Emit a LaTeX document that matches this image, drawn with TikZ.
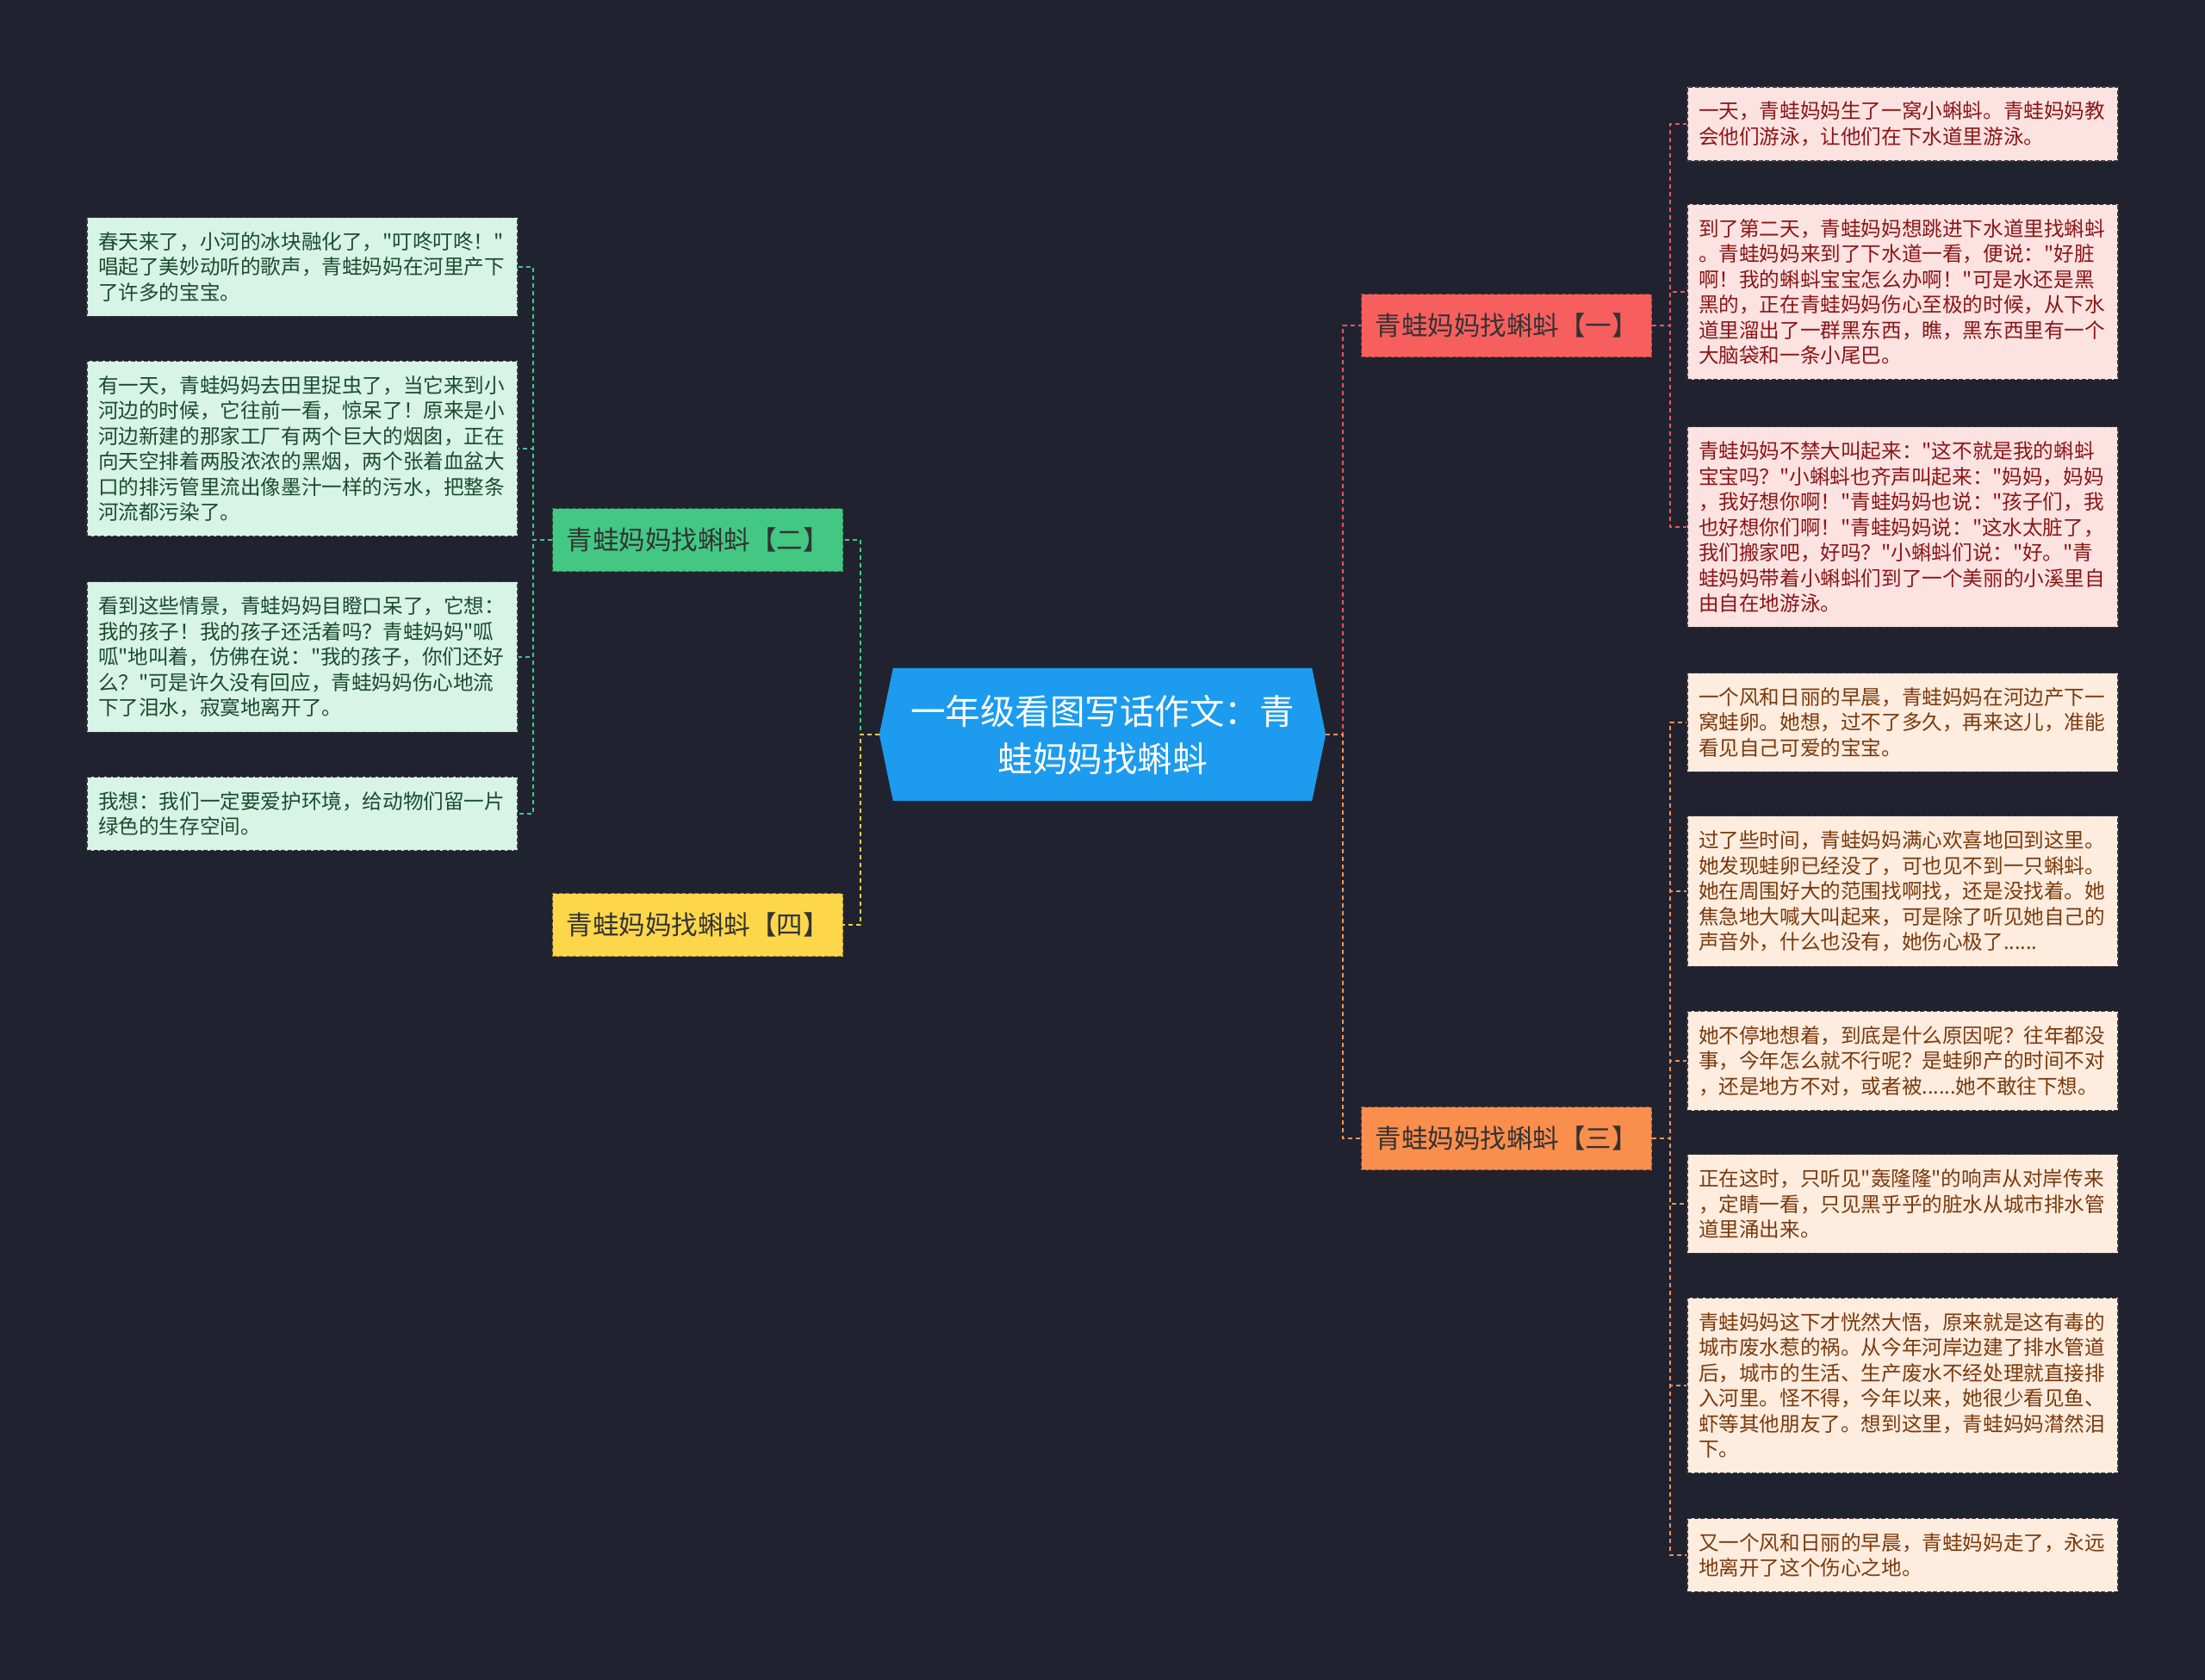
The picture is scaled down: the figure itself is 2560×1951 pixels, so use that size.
\documentclass[tikz,border=0pt]{standalone}
\usepackage{fontspec}
\setmainfont{Noto Sans CJK SC}[Ligatures=TeXOff]
\usetikzlibrary{backgrounds}

\definecolor{bgc}{HTML}{20232F}
\definecolor{rootblue}{HTML}{1C9BEF}
\definecolor{leafline}{HTML}{3A3A3A}
\definecolor{redB}{HTML}{F75F5E}
\definecolor{redL}{HTML}{FDE2E2}
\definecolor{redT}{HTML}{8A1616}
\definecolor{redC}{HTML}{E8585A}
\definecolor{greenB}{HTML}{43C884}
\definecolor{greenL}{HTML}{D7F4E6}
\definecolor{greenT}{HTML}{1D4A33}
\definecolor{greenC}{HTML}{3FC98A}
\definecolor{yellowB}{HTML}{FDD64A}
\definecolor{yellowC}{HTML}{F5CF45}
\definecolor{orangeB}{HTML}{FA8E4D}
\definecolor{orangeL}{HTML}{FEECDF}
\definecolor{orangeT}{HTML}{7A3A0C}
\definecolor{orangeC}{HTML}{F29352}

\begin{document}
\begin{tikzpicture}[x=1pt,y=-1pt,
  rootbox/.style={minimum width=486pt,minimum height=154pt,inner sep=0pt,align=center,text=white,font=\fontsize{40.5}{55}\selectfont},
  branch/.style={minimum width=337pt,minimum height=73pt,inner sep=4pt,draw=#1!60!black,fill=#1,dash pattern=on 5pt off 2.5pt,line width=1.2pt,text=black!80,font=\fontsize{30.5}{34}\selectfont},
  leaf/.style={draw=leafline,dash pattern=on 5pt off 2.5pt,line width=1.2pt,text width=474pt,inner xsep=13pt,inner ysep=17pt,align=left,font=\fontsize{23.6}{29.5}\selectfont},
  leafg/.style={leaf,fill=greenL,text=greenT},
  leafr/.style={leaf,fill=redL,text=redT},
  leafo/.style={leaf,fill=orangeL,text=orangeT},
  link/.style={line width=1.8pt,dash pattern=on 5pt off 4pt}]
  \useasboundingbox (0,0) rectangle (2560,1951);

  \node[rootbox] (root) at (1280,853) {一年级看图写话作文：青\\蛙妈妈找蝌蚪};

  \node[branch=redB] (b1) at (1749,378) {青蛙妈妈找蝌蚪【一】};
  \node[branch=greenB] (b2) at (810,627) {青蛙妈妈找蝌蚪【二】};
  \node[branch=orangeB] (b3) at (1749,1322) {青蛙妈妈找蝌蚪【三】};
  \node[branch=yellowB] (b4) at (810,1074) {青蛙妈妈找蝌蚪【四】};

  \node[leafg] (l1) at (351,310) {春天来了，小河的冰块融化了，"叮咚叮咚！"\\唱起了美妙动听的歌声，青蛙妈妈在河里产下\\了许多的宝宝。};
  \node[leafg] (l2) at (351,521) {有一天，青蛙妈妈去田里捉虫了，当它来到小\\河边的时候，它往前一看，惊呆了！原来是小\\河边新建的那家工厂有两个巨大的烟囱，正在\\向天空排着两股浓浓的黑烟，两个张着血盆大\\口的排污管里流出像墨汁一样的污水，把整条\\河流都污染了。};
  \node[leafg] (l3) at (351,763) {看到这些情景，青蛙妈妈目瞪口呆了，它想：\\我的孩子！我的孩子还活着吗？青蛙妈妈"呱\\呱"地叫着，仿佛在说："我的孩子，你们还好\\么？"可是许久没有回应，青蛙妈妈伤心地流\\下了泪水，寂寞地离开了。};
  \node[leafg] (l4) at (351,945) {我想：我们一定要爱护环境，给动物们留一片\\绿色的生存空间。};

  \node[leafr] (r1) at (2209,144) {一天，青蛙妈妈生了一窝小蝌蚪。青蛙妈妈教\\会他们游泳，让他们在下水道里游泳。};
  \node[leafr] (r2) at (2209,339) {到了第二天，青蛙妈妈想跳进下水道里找蝌蚪\\。青蛙妈妈来到了下水道一看，便说："好脏\\啊！我的蝌蚪宝宝怎么办啊！"可是水还是黑\\黑的，正在青蛙妈妈伤心至极的时候，从下水\\道里溜出了一群黑东西，瞧，黑东西里有一个\\大脑袋和一条小尾巴。};
  \node[leafr] (r3) at (2209,612) {青蛙妈妈不禁大叫起来："这不就是我的蝌蚪\\宝宝吗？"小蝌蚪也齐声叫起来："妈妈，妈妈\\，我好想你啊！"青蛙妈妈也说："孩子们，我\\也好想你们啊！"青蛙妈妈说："这水太脏了，\\我们搬家吧，好吗？"小蝌蚪们说："好。"青\\蛙妈妈带着小蝌蚪们到了一个美丽的小溪里自\\由自在地游泳。};

  \node[leafo] (o1) at (2209,839) {一个风和日丽的早晨，青蛙妈妈在河边产下一\\窝蛙卵。她想，过不了多久，再来这儿，准能\\看见自己可爱的宝宝。};
  \node[leafo] (o2) at (2209,1035) {过了些时间，青蛙妈妈满心欢喜地回到这里。\\她发现蛙卵已经没了，可也见不到一只蝌蚪。\\她在周围好大的范围找啊找，还是没找着。她\\焦急地大喊大叫起来，可是除了听见她自己的\\声音外，什么也没有，她伤心极了......};
  \node[leafo] (o3) at (2209,1232) {她不停地想着，到底是什么原因呢？往年都没\\事，今年怎么就不行呢？是蛙卵产的时间不对\\，还是地方不对，或者被......她不敢往下想。};
  \node[leafo] (o4) at (2209,1398) {正在这时，只听见"轰隆隆"的响声从对岸传来\\，定睛一看，只见黑乎乎的脏水从城市排水管\\道里涌出来。};
  \node[leafo] (o5) at (2209,1609) {青蛙妈妈这下才恍然大悟，原来就是这有毒的\\城市废水惹的祸。从今年河岸边建了排水管道\\后，城市的生活、生产废水不经处理就直接排\\入河里。怪不得，今年以来，她很少看见鱼、\\虾等其他朋友了。想到这里，青蛙妈妈潸然泪\\下。};
  \node[leafo] (o6) at (2209,1806) {又一个风和日丽的早晨，青蛙妈妈走了，永远\\地离开了这个伤心之地。};

  \draw[link,greenC] ([xshift=-16pt]root.west) -- ++(-22,0) |- (b2.east);
  \draw[link,yellowC] ([xshift=-16pt]root.west) -- ++(-22,0) |- (b4.east);
  \draw[link,redC] ([xshift=16pt]root.east) -- ++(20,0) |- (b1.west);
  \draw[link,orangeC] ([xshift=16pt]root.east) -- ++(20,0) |- (b3.west);
  \foreach \n in {l1,l2,l3,l4} \draw[link,greenC] (b2.west) -- ++(-22,0) |- (\n.east);
  \foreach \n in {r1,r2,r3} \draw[link,redC] (b1.east) -- ++(21,0) |- (\n.west);
  \foreach \n in {o1,o2,o3,o4,o5,o6} \draw[link,orangeC] (b3.east) -- ++(21,0) |- (\n.west);

  \begin{scope}[on background layer]
    \fill[bgc] (0,0) rectangle (2560,1951);
    \fill[rootblue] (root.north west) -- (root.north east) -- ([xshift=16pt]root.east) -- (root.south east) -- (root.south west) -- ([xshift=-16pt]root.west) -- cycle;
  \end{scope}
\end{tikzpicture}
\end{document}
